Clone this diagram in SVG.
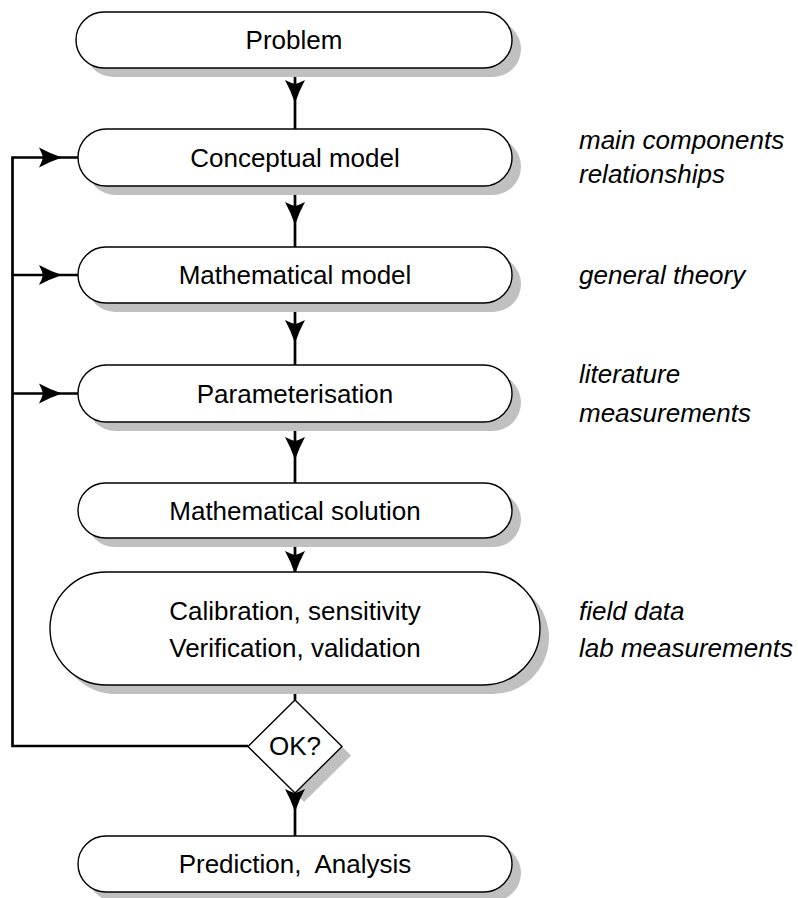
<svg xmlns="http://www.w3.org/2000/svg" xmlns:xlink="http://www.w3.org/1999/xlink" width="798" height="898" viewBox="0 0 798 898">
<style>
.box{fill:#fff;stroke:#000;stroke-width:1.4}
.sh{fill:#c0c0c0;stroke:none}
.t{font-family:"Liberation Sans",Arial,sans-serif;font-size:26px;fill:#000;text-anchor:middle}
.n{font-family:"Liberation Sans",Arial,sans-serif;font-size:26px;font-style:italic;fill:#000}
.c{fill:none;stroke:#000;stroke-width:2.7}
</style>
<defs>
<path id="ah" d="M0,0 Q-4,-12 -10,-23 Q-4,-20 0,-19 Q4,-20 10,-23 Q4,-12 0,0 Z" fill="#000"/>
</defs>
<rect width="798" height="898" fill="#fff"/>
<g id="connectors">
<line class="c" x1="295" y1="68" x2="295" y2="129"/>
<line class="c" x1="295" y1="186" x2="295" y2="247"/>
<line class="c" x1="295" y1="303" x2="295" y2="365"/>
<line class="c" x1="295" y1="422" x2="295" y2="483"/>
<line class="c" x1="295" y1="538" x2="295" y2="572"/>
<line class="c" x1="295" y1="685" x2="295" y2="700"/>
<line class="c" x1="295" y1="793" x2="295" y2="836"/>
<polyline class="c" points="248,746 12.5,746 12.5,157.5 78,157.5"/>
<line class="c" x1="12.5" y1="275" x2="78" y2="275"/>
<line class="c" x1="12.5" y1="393.5" x2="78" y2="393.5"/>
<use xlink:href="#ah" transform="translate(295,103)"/>
<use xlink:href="#ah" transform="translate(295,225)"/>
<use xlink:href="#ah" transform="translate(295,343)"/>
<use xlink:href="#ah" transform="translate(295,460)"/>
<use xlink:href="#ah" transform="translate(295,574)"/>
<use xlink:href="#ah" transform="translate(62,157.5) rotate(-90)"/>
<use xlink:href="#ah" transform="translate(62,275) rotate(-90)"/>
<use xlink:href="#ah" transform="translate(62,393.5) rotate(-90)"/>
</g>
<g id="problem">
<rect class="sh" x="85" y="21" width="436" height="56" rx="28"/>
<rect class="box" x="76" y="12" width="436" height="56" rx="28"/>
<text class="t" x="294" y="49">Problem</text>
</g>
<g id="conceptual">
<rect class="sh" x="87" y="138" width="434" height="57" rx="28.5"/>
<rect class="box" x="78" y="129" width="434" height="57" rx="28.5"/>
<text class="t" x="295" y="167">Conceptual model</text>
</g>
<g id="mathmodel">
<rect class="sh" x="87" y="256" width="434" height="56" rx="28"/>
<rect class="box" x="78" y="247" width="434" height="56" rx="28"/>
<text class="t" x="295" y="284">Mathematical model</text>
</g>
<g id="param">
<rect class="sh" x="87" y="374" width="434" height="57" rx="28.5"/>
<rect class="box" x="78" y="365" width="434" height="57" rx="28.5"/>
<text class="t" x="295" y="403">Parameterisation</text>
</g>
<g id="mathsol">
<rect class="sh" x="87" y="492" width="434" height="55" rx="27.5"/>
<rect class="box" x="78" y="483" width="434" height="55" rx="27.5"/>
<text class="t" x="295" y="520">Mathematical solution</text>
</g>
<g id="calibration">
<rect class="sh" x="59" y="581" width="490" height="113" rx="56.5"/>
<rect class="box" x="50" y="572" width="490" height="113" rx="56.5"/>
<text class="t" x="295" y="620">Calibration, sensitivity</text>
<text class="t" x="295" y="657">Verification, validation</text>
</g>
<g id="ok">
<polygon class="sh" points="304,709 351,755.5 304,802 257,755.5"/>
<polygon class="box" points="295,700 342,746.5 295,793 248,746.5"/>
<text class="t" x="295" y="755">OK?</text>
</g>
<g id="okarrow">
<use xlink:href="#ah" transform="translate(295,812)"/>
</g>
<g id="prediction">
<rect class="sh" x="87" y="845" width="434" height="56" rx="28"/>
<rect class="box" x="78" y="836" width="434" height="56" rx="28"/>
<text class="t" x="295" y="873" xml:space="preserve">Prediction,  Analysis</text>
</g>
<g id="notes">
<text class="n" x="579" y="149">main components</text>
<text class="n" x="579" y="183">relationships</text>
<text class="n" x="579" y="284">general theory</text>
<text class="n" x="579" y="383">literature</text>
<text class="n" x="579" y="422">measurements</text>
<text class="n" x="579" y="620">field data</text>
<text class="n" x="579" y="657">lab measurements</text>
</g>
</svg>
